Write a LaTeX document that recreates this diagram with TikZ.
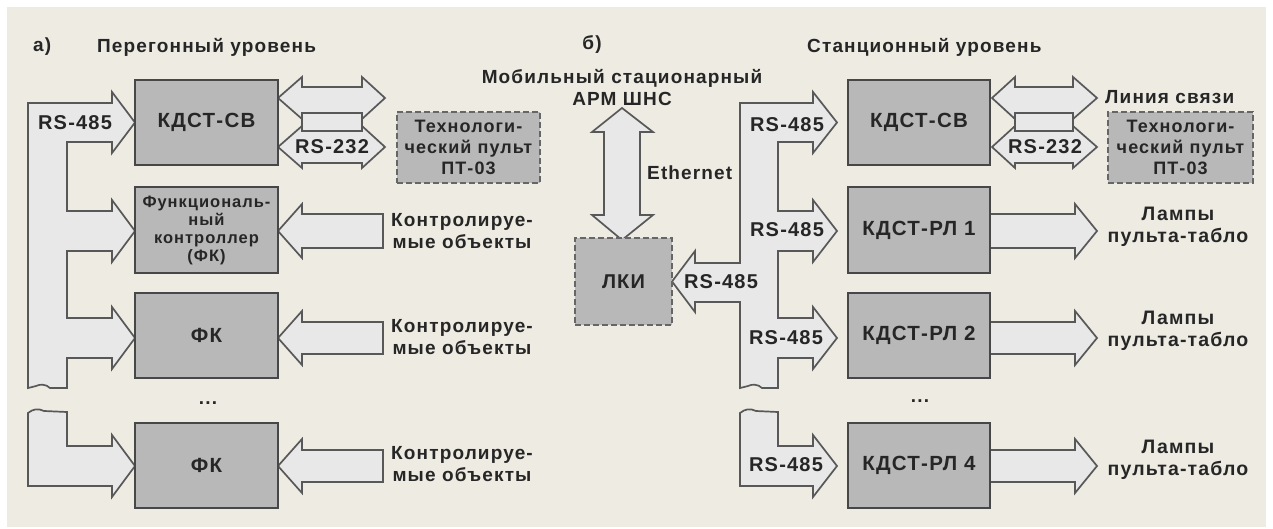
\documentclass[tikz,border=0pt]{standalone}
\usepackage{fontspec}
\setmainfont{Liberation Sans}[LetterSpace=6]
\definecolor{bg}{HTML}{EEEBE3}
\definecolor{boxfill}{HTML}{B8B8B8}
\definecolor{boxline}{HTML}{474747}
\definecolor{dline}{HTML}{666666}
\definecolor{arrfill}{HTML}{E8E8E8}
\definecolor{arrline}{HTML}{585858}
\definecolor{txt}{HTML}{262626}
\tikzset{
  blk/.style={draw=boxline, fill=boxfill, line width=2pt, inner sep=0pt, align=center, text=txt,
    font=\bfseries\fontsize{20.5}{22}\selectfont},
  dbox/.style={draw=dline, fill=boxfill, line width=1.8pt, dash pattern=on 6pt off 3pt, inner sep=0pt,
    align=center, text=txt, font=\bfseries\fontsize{18}{21}\selectfont},
  arr/.style={draw=arrline, fill=arrfill, line width=1.7pt, line join=miter},
  lbl/.style={text=txt, inner sep=0pt, align=center, font=\bfseries\fontsize{19}{22}\selectfont},
  lmp/.style={text=txt, inner sep=0pt, align=center, font=\bfseries\fontsize{19.5}{22}\selectfont},
  head/.style={text=txt, inner sep=0pt, font=\bfseries\fontsize{19}{22}\selectfont},
  rs/.style={text=txt, inner sep=0pt, font=\bfseries\fontsize{20}{22}\selectfont},
}
\begin{document}
\begin{tikzpicture}[x=1pt,y=-1pt]
\useasboundingbox (0,0) rectangle (1273,529);
\fill[white] (0,0) rectangle (1273,529);
\fill[bg] (7,7) rectangle (1266,527);

% ---------- left bus ----------
\draw[arr] (28,103) -- (112,103) -- (112,92) -- (135,122.5) -- (112,153) -- (112,142) -- (67,142)
  -- (67,211) -- (112,211) -- (112,200) -- (135,231) -- (112,262) -- (112,251) -- (67,251)
  -- (67,318) -- (112,318) -- (112,307) -- (135,338) -- (112,369) -- (112,358) -- (67,358)
  -- (67,388) -- (50,388) .. controls (46,384) and (40,384) .. (36,386) -- (28,388) -- cycle;
\draw[arr] (28,413) .. controls (33,409) and (38,408) .. (44,411) -- (67,412) -- (67,446)
  -- (112,446) -- (112,435) -- (135,466) -- (112,497) -- (112,486) -- (28,486) -- cycle;

% ---------- right bus ----------
\draw[arr] (740,103) -- (813,103) -- (813,92) -- (837,122.5) -- (813,153) -- (813,142) -- (778,142)
  -- (778,211) -- (813,211) -- (813,200) -- (837,231) -- (813,262) -- (813,251) -- (778,251)
  -- (778,318) -- (813,318) -- (813,307) -- (837,338) -- (813,369) -- (813,358) -- (778,358)
  -- (778,388) -- (762,388) .. controls (758,384) and (752,384) .. (748,386) -- (740,388)
  -- (740,302) -- (695,302) -- (695,312) -- (672,281.5) -- (695,251) -- (695,263) -- (740,263) -- cycle;
\draw[arr] (740,413) .. controls (745,409) and (750,408) .. (756,411) -- (778,412) -- (778,446)
  -- (813,446) -- (813,435) -- (837,466) -- (813,497) -- (813,486) -- (740,486) -- cycle;

% ---------- double arrows at KDST-SV (left) ----------
\draw[arr] (302,113) rectangle (362,131);
\draw[arr] (278,98) -- (302,77) -- (302,87) -- (362,87) -- (362,77) -- (385,98) -- (362,119)
  -- (362,113) -- (302,113) -- (302,119) -- cycle;
\draw[arr] (278,147) -- (302,126) -- (302,131) -- (362,131) -- (362,126) -- (385,147) -- (362,168)
  -- (362,163) -- (302,163) -- (302,168) -- cycle;
% ---------- double arrows at KDST-SV (right) ----------
\draw[arr] (1015,113) rectangle (1073,131);
\draw[arr] (992,98) -- (1015,77) -- (1015,87) -- (1073,87) -- (1073,77) -- (1097,98) -- (1073,119)
  -- (1073,113) -- (1015,113) -- (1015,119) -- cycle;
\draw[arr] (992,147) -- (1015,126) -- (1015,131) -- (1073,131) -- (1073,126) -- (1097,147) -- (1073,168)
  -- (1073,163) -- (1015,163) -- (1015,168) -- cycle;

% ---------- input arrows (left part) ----------
\draw[arr] (383,214) -- (302,214) -- (302,204) -- (278,231) -- (302,258) -- (302,248) -- (383,248) -- cycle;
\draw[arr] (383,322) -- (302,322) -- (302,311) -- (278,338) -- (302,365) -- (302,354) -- (383,354) -- cycle;
\draw[arr] (383,450) -- (302,450) -- (302,439) -- (278,466) -- (302,493) -- (302,482) -- (383,482) -- cycle;

% ---------- output arrows (right part) ----------
\draw[arr] (990,214) -- (1075,214) -- (1075,204) -- (1097,231) -- (1075,258) -- (1075,248) -- (990,248) -- cycle;
\draw[arr] (990,322) -- (1075,322) -- (1075,311) -- (1097,338) -- (1075,365) -- (1075,354) -- (990,354) -- cycle;
\draw[arr] (990,450) -- (1075,450) -- (1075,439) -- (1097,466) -- (1075,493) -- (1075,482) -- (990,482) -- cycle;

% ---------- Ethernet ----------
\draw[arr] (622,108) -- (653,132) -- (640,132) -- (640,215) -- (653,215) -- (622,240) -- (592,215)
  -- (604,215) -- (604,132) -- (592,132) -- cycle;

% ---------- boxes left ----------
\node[blk, minimum width=143pt, minimum height=85pt] (kL) at (206.5,122.5) {КДСТ-СВ};
\node[blk, minimum width=143pt, minimum height=86pt, font=\bfseries\fontsize{16.5}{18}\selectfont] (fkc) at (206.5,230)
  {Функциональ-\\ный\\контроллер\\(ФК)};
\node[blk, minimum width=143pt, minimum height=85pt] (fk1) at (206.5,335.5) {ФК};
\node[blk, minimum width=143pt, minimum height=85pt] (fk2) at (206.5,465.5) {ФК};
\node[dbox, minimum width=143pt, minimum height=71pt] (ptL) at (468.5,147.5) {Технологи-\\ческий пульт\\ПТ-03};

% ---------- boxes right ----------
\node[blk, minimum width=142pt, minimum height=85pt] (kR) at (919,122.5) {КДСТ-СВ};
\node[blk, minimum width=142pt, minimum height=86pt] (rl1) at (919,230) {КДСТ-РЛ 1};
\node[blk, minimum width=142pt, minimum height=85pt] (rl2) at (919,335.5) {КДСТ-РЛ 2};
\node[blk, minimum width=142pt, minimum height=85pt] (rl4) at (919,465.5) {КДСТ-РЛ 4};
\node[dbox, minimum width=145pt, minimum height=71pt] (ptR) at (1180.5,147.5) {Технологи-\\ческий пульт\\ПТ-03};
\node[dbox, minimum width=97pt, minimum height=87pt, font=\bfseries\fontsize{20}{22}\selectfont] (lki) at (623.5,281.5) {ЛКИ};

% ---------- headings ----------
\node[head, anchor=west] (ha) at (33,47) {а)};
\node[head, anchor=west] (hl) at (97,47) {Перегонный уровень};
\node[head] (hb) at (592,45) {б)};
\node[head, anchor=west] (hr) at (807,47) {Станционный уровень};
\node[lbl] (arm) at (622,88) {Мобильный стационарный\\АРМ ШНС};
\node[head, anchor=west] (eth) at (647,173) {Ethernet};

% ---------- arrow labels ----------
\node[rs] (rsL) at (75,123) {RS-485};
\node[rs] (r232L) at (332,147) {RS-232};
\node[rs] (r232R) at (1045,147) {RS-232};
\node[rs] (rs1) at (787,125) {RS-485};
\node[rs] (rs2) at (787,230) {RS-485};
\node[rs] (rs3) at (786,338) {RS-485};
\node[rs] (rs4) at (786,465) {RS-485};
\node[rs] (rs5) at (721,282) {RS-485};

% ---------- side texts ----------
\node[lbl] (c1) at (462,231) {Контролируе-\\мые объекты};
\node[lbl] (c2) at (462,337) {Контролируе-\\мые объекты};
\node[lbl] (c3) at (462,464) {Контролируе-\\мые объекты};
\node[head, anchor=west] (ls) at (1105,97) {Линия связи};
\node[lmp] (l1) at (1178,227) {Лампы\\пульта-табло};
\node[lmp] (l2) at (1178,331) {Лампы\\пульта-табло};
\node[lmp] (l4) at (1178,460) {Лампы\\пульта-табло};
\node[lbl] (d1) at (208,403) {...};
\node[lbl] (d2) at (920,401) {...};
\end{tikzpicture}
\end{document}
